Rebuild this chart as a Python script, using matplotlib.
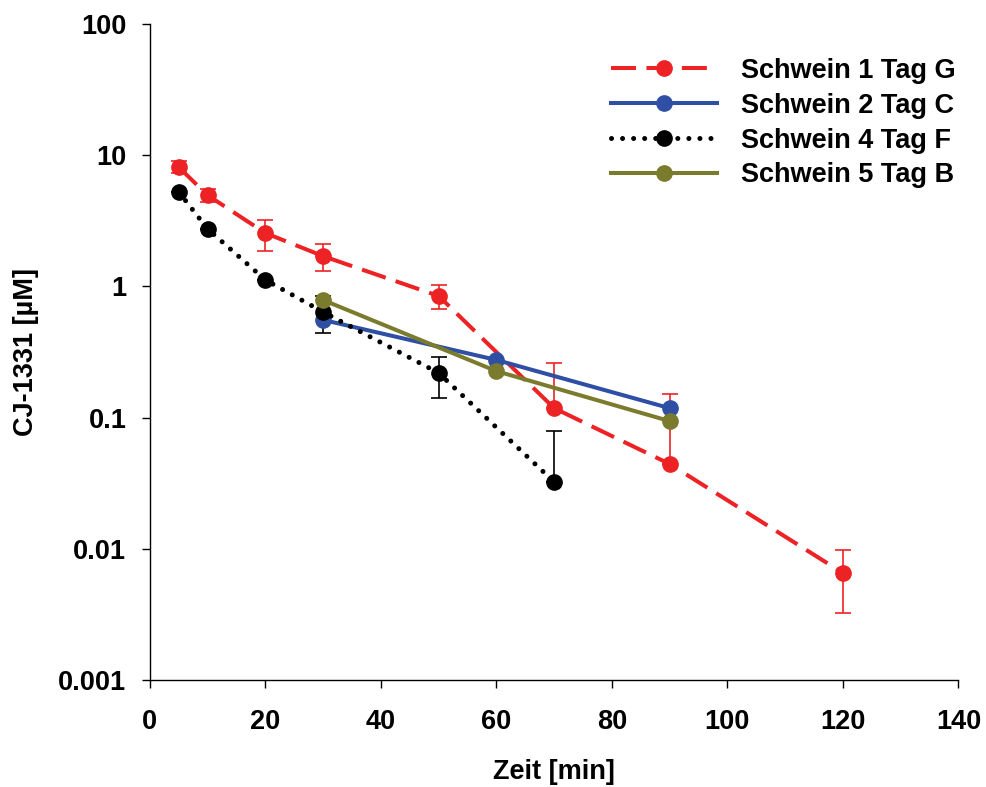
import numpy as np
import matplotlib
matplotlib.use('Agg')
import matplotlib.pyplot as plt
from matplotlib.ticker import FixedLocator, FixedFormatter, NullLocator

plt.rcParams['font.family'] = ['Liberation Sans', 'DejaVu Sans']
plt.rcParams['font.weight'] = 'bold'

# Schwein 1 Tag G
t1 = [5, 10, 20, 30, 50, 70, 90, 120]
c1 = [8.1, 4.95, 2.55, 1.70, 0.845, 0.118, 0.0443, 0.00654]
c1_hi = [9.0, 5.5, 3.2, 2.1, 1.03, 0.26, 0.151, 0.0098]
c1_lo = [7.3, 4.4, 1.86, 1.31, 0.67, 0.118, 0.0443, 0.00324]

# Schwein 2 Tag C
t2 = [30, 60, 90]
c2 = [0.555, 0.275, 0.118]

# Schwein 4 Tag F
t4 = [5, 10, 20, 30, 50, 70]
c4 = [5.25, 2.74, 1.12, 0.638, 0.219, 0.0323]
c4_hi = [5.25, 2.74, 1.12, 0.845, 0.29, 0.079]
c4_lo = [5.25, 2.74, 1.12, 0.44, 0.141, 0.0323]

# Schwein 5 Tag B
t5 = [30, 60, 90]
c5 = [0.787, 0.226, 0.094]

y_ticks = [0.001, 0.01, 0.1, 1, 10, 100]
y_labels = ['0.001', '0.01', '0.1', '1', '10', '100']

red = '#ED2224'
blue = '#2E4FA3'
olive = '#7B7B2E'
fs = 19.5

fig = plt.figure(figsize=(9.86, 7.87), dpi=100)
ax = fig.add_axes([0.152, 0.136, 0.820, 0.8335])

err1 = [np.array(c1) - np.array(c1_lo), np.array(c1_hi) - np.array(c1)]
err4 = [np.array(c4) - np.array(c4_lo), np.array(c4_hi) - np.array(c4)]

ax.errorbar(t1, c1, yerr=err1, fmt='none', ecolor=red, elinewidth=1.2,
            capsize=6, capthick=1.2, zorder=2)
ax.errorbar(t4, c4, yerr=err4, fmt='none', ecolor='black', elinewidth=1.2,
            capsize=6, capthick=1.2, zorder=2)

ax.plot(t1, c1, color=red, lw=2.9, dashes=(6.2, 2.6), marker='o', ms=11,
        label='Schwein 1 Tag G', zorder=3)
ax.plot(t2, c2, color=blue, lw=2.9, marker='o', ms=11,
        label='Schwein 2 Tag C', zorder=3)
ax.plot(t4, c4, color='black', lw=3.6, dashes=(0.01, 2.2), dash_capstyle='round',
        marker='o', ms=11, label='Schwein 4 Tag F', zorder=3)
ax.plot(t5, c5, color=olive, lw=2.9, marker='o', ms=11,
        label='Schwein 5 Tag B', zorder=4)

ax.set_yscale('log')
ax.set_ylim(0.001, 100)
ax.set_xlim(0, 140)
ax.yaxis.set_major_locator(FixedLocator(y_ticks))
ax.yaxis.set_major_formatter(FixedFormatter(y_labels))
ax.yaxis.set_minor_locator(NullLocator())
ax.set_xticks(range(0, 141, 20))

for s in ['top', 'right']:
    ax.spines[s].set_visible(False)
for s in ['left', 'bottom']:
    ax.spines[s].set_linewidth(1.0)
ax.tick_params(axis='both', direction='out', length=6, width=1.0,
               labelsize=fs)
ax.tick_params(axis='x', pad=15)
ax.tick_params(axis='y', pad=11)
for lab in ax.get_xticklabels() + ax.get_yticklabels():
    lab.set_fontweight('bold')

ax.set_xlabel('Zeit [min]', fontsize=fs, fontweight='bold', labelpad=17)
ax.set_ylabel('CJ-1331 [µM]', fontsize=fs, fontweight='bold', labelpad=14)

leg = ax.legend(loc='upper right', bbox_to_anchor=(1.03, 0.99), frameon=False,
                handlelength=3.9, handletextpad=0.9, labelspacing=0.33,
                borderaxespad=0.6, prop={'weight': 'bold', 'size': fs})

fig.savefig('out.png', dpi=100)
